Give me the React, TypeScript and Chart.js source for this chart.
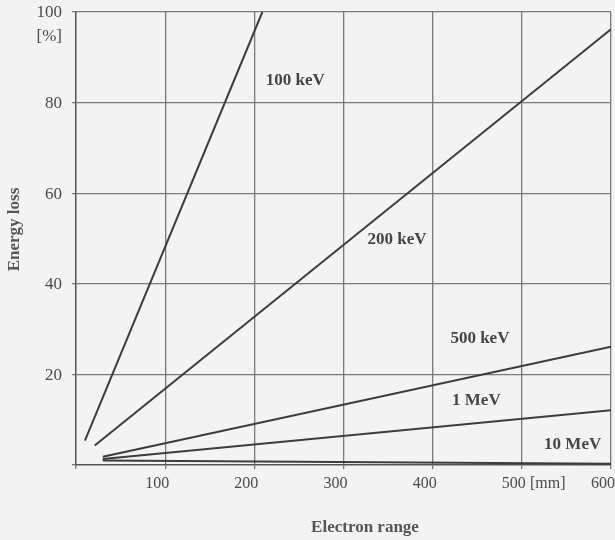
import { useEffect, useRef } from "react";
import { Chart, registerables } from "chart.js";

Chart.register(...registerables);

// ---- data ----
const seriesNames = ["100 keV", "200 keV", "500 keV", "1 MeV", "10 MeV"];
const rangeStart = [10, 21, 30, 30, 30];
const rangeEnd = [209, 600, 600, 600, 600];
const lossStart = [5.4, 4.3, 1.8, 1.3, 1.0];
const lossEnd = [100, 96.2, 26.1, 12.1, 0.3];
// label anchor points (data coordinates)
const labelRange = [246, 360, 453, 449, 557];
const labelLoss = [84.8, 49.7, 28, 14.3, 4.4];

const xTicks = [100, 200, 300, 400, 500, 600];
const yTicks = [20, 40, 60, 80, 100];
const xUnit = "[mm]";
const xUnitAt = 529;
const yUnit = "[%]";
const xTitle = "Electron range";
const yTitle = "Energy loss";

const BG = "#f3f3f3";
const INK = "#3c3c3c";
const GRID = "#7a7a7a";
const TEXT = "#4a4a4a";
const SERIF = "'Liberation Serif', 'DejaVu Serif', serif";

const textPlugin = {
  id: "textPlugin",
  beforeDraw(chart: any) {
    const { ctx, width, height } = chart;
    ctx.save();
    ctx.fillStyle = BG;
    ctx.fillRect(0, 0, width, height);
    ctx.restore();
  },
  afterDraw(chart: any) {
    const { ctx, chartArea } = chart;
    const xs = chart.scales.x;
    const ys = chart.scales.y;
    ctx.save();
    ctx.fillStyle = TEXT;
    ctx.textBaseline = "middle";

    // x tick labels
    ctx.font = `16px ${SERIF}`;
    ctx.textAlign = "center";
    xTicks.forEach((v) => {
      ctx.fillText(String(v), xs.getPixelForValue(v) - 8, chartArea.bottom + 19);
    });
    ctx.fillText(xUnit, xs.getPixelForValue(xUnitAt), chartArea.bottom + 19);

    // y tick labels
    ctx.font = `17px ${SERIF}`;
    ctx.textAlign = "right";
    yTicks.forEach((v) => {
      ctx.fillText(String(v), chartArea.left - 14, ys.getPixelForValue(v) + 1);
    });
    ctx.fillText(yUnit, chartArea.left - 14, ys.getPixelForValue(100) + 25);

    // series labels
    ctx.font = `bold 17px ${SERIF}`;
    ctx.fillStyle = "#454545";
    ctx.textAlign = "center";
    seriesNames.forEach((n, i) => {
      ctx.fillText(n, xs.getPixelForValue(labelRange[i]), ys.getPixelForValue(labelLoss[i]));
    });

    // axis titles
    ctx.fillStyle = "#555";
    ctx.font = `bold 17px ${SERIF}`;
    ctx.fillText(xTitle, chartArea.left + 289, chartArea.bottom + 63);
    ctx.save();
    ctx.translate(chartArea.left - 61, (chartArea.top + chartArea.bottom) / 2 - 9);
    ctx.rotate(-Math.PI / 2);
    ctx.fillText(yTitle, 0, 0);
    ctx.restore();

    ctx.restore();
  },
};

export default function App() {
  const ref = useRef<HTMLCanvasElement | null>(null);

  useEffect(() => {
    document.body.style.margin = "0";
    document.body.style.background = BG;
    const canvas = ref.current;
    if (!canvas) return;
    const chart = new Chart(canvas, {
      type: "line",
      data: {
        datasets: seriesNames.map((name, i) => ({
          label: name,
          data: [
            { x: rangeStart[i], y: lossStart[i] },
            { x: rangeEnd[i], y: lossEnd[i] },
          ],
          borderColor: INK,
          borderWidth: 2,
          pointRadius: 0,
          fill: false,
          tension: 0,
        })),
      },
      options: {
        animation: false,
        responsive: false,
        maintainAspectRatio: false,
        layout: { padding: { left: 72, right: 4, top: 12, bottom: 71 } },
        plugins: {
          legend: { display: false },
          tooltip: { enabled: false },
        },
        scales: {
          x: {
            type: "linear",
            min: 0,
            max: 600,
            ticks: { display: false, stepSize: 100 },
            grid: {
              color: (c: any) => (c.tick && c.tick.value === 0 ? "rgba(0,0,0,0)" : GRID),
              lineWidth: 1.3,
              drawTicks: true,
              tickLength: 4,
              tickColor: GRID,
            },
            border: { display: true, color: "#555", width: 1.5 },
          },
          y: {
            type: "linear",
            min: 0,
            max: 100,
            ticks: { display: false, stepSize: 20 },
            grid: {
              color: (c: any) => (c.tick && c.tick.value === 0 ? "rgba(0,0,0,0)" : GRID),
              lineWidth: 1.3,
              drawTicks: true,
              tickLength: 4,
              tickColor: GRID,
            },
            border: { display: true, color: "#555", width: 1.5 },
          },
        },
      },
      plugins: [textPlugin],
    });
    return () => chart.destroy();
  }, []);

  return (
    <div style={{ position: "fixed", left: 0, top: 0, width: 615, height: 540, background: BG }}>
      <canvas ref={ref} width={615} height={540} style={{ width: 615, height: 540, display: "block" }} />
    </div>
  );
}
